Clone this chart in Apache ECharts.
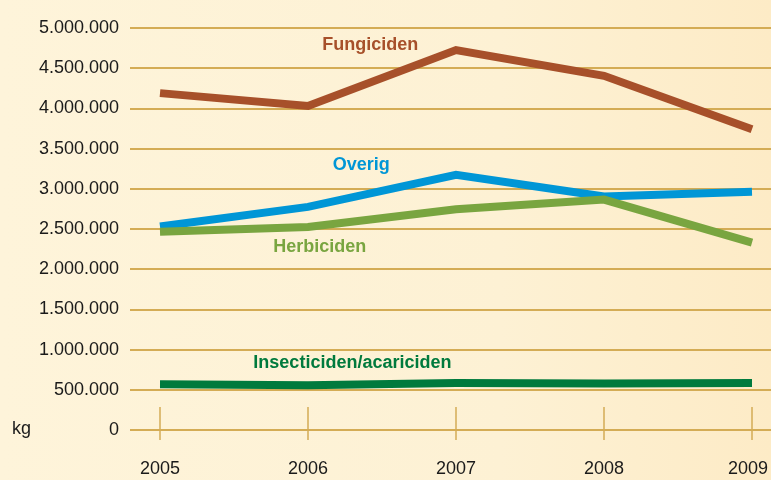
<!DOCTYPE html>
<html>
<head>
<meta charset="utf-8">
<script src="https://cdn.jsdelivr.net/npm/echarts@6/dist/echarts.min.js"></script>
<style>
  html, body { margin: 0; padding: 0; }
  #main {
    width: 771px; height: 480px;
    background: linear-gradient(to right, #fef4da 0%, #fdf1d4 65%, #fdebc6 100%);
  }
</style>
</head>
<body>
<div id="main"></div>
<script>
var years = [2005, 2006, 2007, 2008, 2009];
var fungiciden = [4190000, 4030000, 4725000, 4405000, 3740000];
var overig = [2530000, 2775000, 3175000, 2905000, 2962000];
var herbiciden = [2465000, 2525000, 2745000, 2866000, 2330000];
var insecticiden = [570000, 556000, 585000, 578000, 585000];
var yTicks = [0, 500000, 1000000, 1500000, 2000000, 2500000, 3000000, 3500000, 4000000, 4500000, 5000000];

var gridColor = '#d4ac55';
var textFont = 'Liberation Sans';

function pairs(vals) {
    return years.map(function (y, i) { return [y, vals[i]]; });
}

function fmt(v) {
    return String(v).replace(/\B(?=(\d{3})+(?!\d))/g, '.');
}

function makeSeries(name, vals, color, pos) {
    return {
        name: name,
        type: 'line',
        data: pairs(vals),
        symbol: 'none',
        lineStyle: { color: color, width: 8, cap: 'butt', join: 'miter' },
        markPoint: {
            symbol: 'circle',
            symbolSize: 0,
            data: [{ coord: pos, value: name }],
            label: {
                show: true,
                position: 'inside',
                formatter: name,
                color: color,
                fontFamily: textFont,
                fontWeight: 'bold',
                fontSize: 18
            }
        }
    };
}

var chart = echarts.init(document.getElementById('main'));
chart.setOption({
    animation: false,
    backgroundColor: 'transparent',
    grid: { left: 130, right: 0, top: 28, bottom: 50, outerBoundsMode: 'none' },
    xAxis: [{
        type: 'value',
        position: 'bottom',
        min: 2005 - 30 / 148,
        max: 2009 + 19 / 148,
        axisLine: { show: false },
        splitLine: { show: false },
        axisTick: { show: true, customValues: years, inside: false, length: 10, lineStyle: { color: gridColor, width: 1.5 } },
        axisLabel: {
            customValues: years, margin: 30, color: '#1a1a1a', fontSize: 18, fontFamily: textFont,
            formatter: function (v) {
                return v === years[years.length - 1] ? '{last|' + v + '}' : String(v);
            },
            rich: { last: { padding: [0, 8, 0, 0], fontSize: 18, fontFamily: textFont, color: '#1a1a1a' } }
        }
    }, {
        type: 'value',
        position: 'bottom',
        min: 2005 - 30 / 148,
        max: 2009 + 19 / 148,
        axisLine: { show: false },
        splitLine: { show: false },
        axisTick: { show: true, customValues: years, inside: true, length: 23, lineStyle: { color: gridColor, width: 1.5 } },
        axisLabel: { show: false }
    }],
    yAxis: {
        type: 'value',
        min: 0,
        max: 5000000,
        interval: 500000,
        axisLine: { show: false },
        axisTick: { show: false },
        splitLine: { lineStyle: { color: gridColor, width: 2 } },
        axisLabel: {
            margin: 11,
            color: '#1a1a1a',
            fontSize: 18,
            fontFamily: textFont,
            formatter: function (v) { return yTicks.indexOf(v) >= 0 ? fmt(v) : ''; }
        }
    },
    graphic: [{
        type: 'text',
        left: 12,
        top: 420,
        style: { text: 'kg', fill: '#1a1a1a', font: '18px "Liberation Sans"' }
    }],
    series: [
        makeSeries('Fungiciden', fungiciden, '#a7502a', [2006.42, 4790000]),
        makeSeries('Overig', overig, '#0096d6', [2006.36, 3300000]),
        makeSeries('Herbiciden', herbiciden, '#79a540', [2006.08, 2275000]),
        makeSeries('Insecticiden/acariciden', insecticiden, '#007a3d', [2006.30, 837500])
    ]
});
</script>
</body>
</html>
